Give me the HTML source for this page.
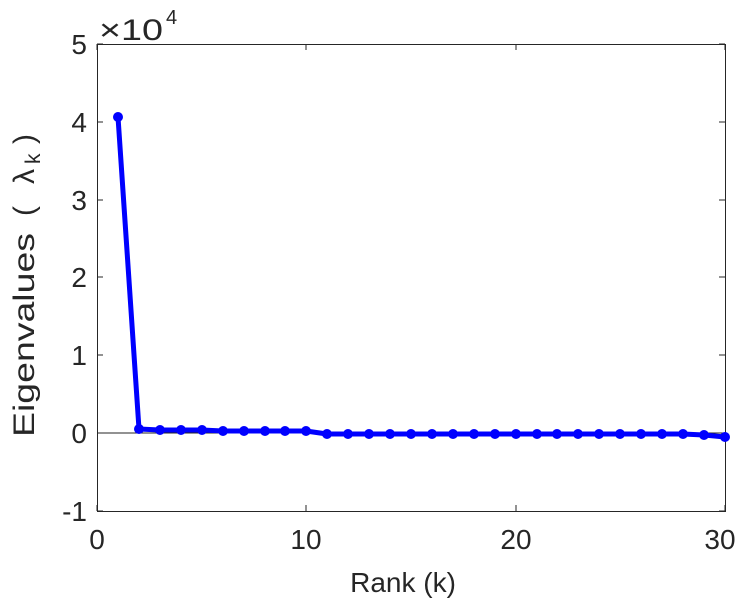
<!DOCTYPE html>
<html><head><style>body{margin:0;background:#fff}svg{display:block}</style></head>
<body>
<svg width="743" height="600" xmlns="http://www.w3.org/2000/svg" font-family="Liberation Sans, sans-serif" fill="#262626">
<rect width="743" height="600" fill="#fff"/>
<g stroke="#262626" stroke-width="1" fill="none">
<rect x="97.5" y="44.5" width="628" height="467"/>
<line x1="97" y1="433" x2="725" y2="433" stroke="#262626"/>
<path d="M97 44h6M97 122h6M97 200h6M97 277h6M97 355h6M97 433h6M97 511h6M725 44h-6M725 122h-6M725 200h-6M725 277h-6M725 355h-6M725 433h-6M725 511h-6"/>
<path d="M97 511v-6M306 511v-6M516 511v-6M725 511v-6M97 44v6M306 44v6M516 44v6M725 44v6"/>
</g>
<g font-size="28" text-anchor="end">
<text x="87" y="54">5</text><text x="87" y="132">4</text><text x="87" y="210">3</text>
<text x="87" y="287">2</text><text x="87" y="365">1</text><text x="87" y="443">0</text><text x="87" y="521">-1</text>
</g>
<g font-size="28" text-anchor="middle">
<text x="97" y="549">0</text><text x="306" y="549">10</text><text x="516" y="549">20</text><text x="720" y="549">30</text>
<text x="403" y="592">Rank (k)</text>
</g>
<text x="99" y="40" font-size="30" textLength="64" lengthAdjust="spacingAndGlyphs">×10</text><text x="166" y="24" font-size="20">4</text>
<g transform="translate(34,0) rotate(-90)" font-size="30">
<text x="-437" y="0" textLength="204" lengthAdjust="spacingAndGlyphs">Eigenvalues</text>
<text x="-216" y="0">(</text>
<text x="-184" y="0">λ</text>
<text x="-164" y="6" font-size="21">k</text>
<text x="-144" y="0">)</text>
</g>
<g stroke="#0000ff" stroke-width="5" fill="none" stroke-linejoin="round">
<polyline points="118,117 139,429 160,430 181,430 202,430 223,431 244,431 265,431 285,431 306,431 327,434 348,434 369,434 390,434 411,434 432,434 453,434 474,434 495,434 516,434 537,434 557,434 578,434 599,434 620,434 641,434 662,434 683,434 704,435 725,437"/>
</g>
<g fill="#0000ff">
<circle cx="118" cy="117" r="5"/><circle cx="139" cy="429" r="5"/><circle cx="160" cy="430" r="5"/><circle cx="181" cy="430" r="5"/><circle cx="202" cy="430" r="5"/><circle cx="223" cy="431" r="5"/><circle cx="244" cy="431" r="5"/><circle cx="265" cy="431" r="5"/><circle cx="285" cy="431" r="5"/><circle cx="306" cy="431" r="5"/><circle cx="327" cy="434" r="5"/><circle cx="348" cy="434" r="5"/><circle cx="369" cy="434" r="5"/><circle cx="390" cy="434" r="5"/><circle cx="411" cy="434" r="5"/><circle cx="432" cy="434" r="5"/><circle cx="453" cy="434" r="5"/><circle cx="474" cy="434" r="5"/><circle cx="495" cy="434" r="5"/><circle cx="516" cy="434" r="5"/><circle cx="537" cy="434" r="5"/><circle cx="557" cy="434" r="5"/><circle cx="578" cy="434" r="5"/><circle cx="599" cy="434" r="5"/><circle cx="620" cy="434" r="5"/><circle cx="641" cy="434" r="5"/><circle cx="662" cy="434" r="5"/><circle cx="683" cy="434" r="5"/><circle cx="704" cy="435" r="5"/><circle cx="725" cy="437" r="5"/>
</g>
</svg>
</body></html>
